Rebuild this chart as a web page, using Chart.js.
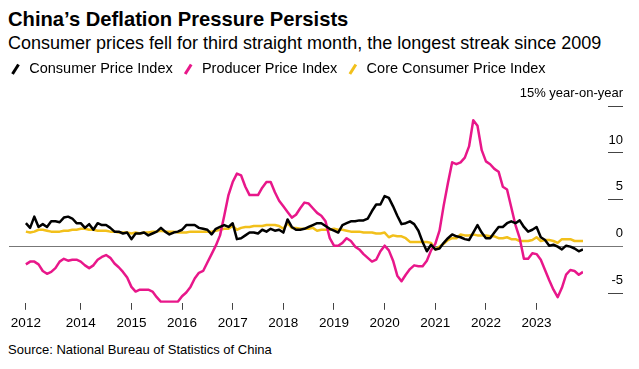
<!DOCTYPE html>
<html>
<head>
<meta charset="utf-8">
<script src="https://cdn.jsdelivr.net/npm/chart.js@4"></script>
<style>
  body { margin: 0; width: 639px; height: 369px; position: relative; background: #fff; overflow: hidden;
         font-family: "Liberation Sans", Arial, sans-serif; color: #000; }
  .title { position: absolute; left: 8px; top: 7px; font-size: 20.2px; line-height: 24px; font-weight: bold; }
  .subtitle { position: absolute; left: 8px; top: 32px; font-size: 18px; line-height: 22px; }
  .chart { position: absolute; left: 0; top: 53px; width: 639px; height: 285px; }
  .source { position: absolute; left: 8px; top: 342px; font-size: 13px; line-height: 16px; }
</style>
</head>
<body>
<div class="title">China’s Deflation Pressure Persists</div>
<div class="subtitle">Consumer prices fell for third straight month, the longest streak since 2009</div>
<div class="chart"><canvas id="chart"></canvas></div>
<div class="source">Source: National Bureau of Statistics of China</div>
<script>
// monthly, Dec 2012 - Dec 2023
const months = [];
for (let y = 2012, m = 12; y < 2024; m++) {
    if (m > 12) { m = 1; y++; }
    if (y > 2023) break;
    months.push(y + '-' + String(m).padStart(2, '0'));
}

const cpi = [
    2.5,
    2.0, 3.2, 2.1, 2.4, 2.1, 2.7, 2.7, 2.6, 3.1, 3.2, 3.0, 2.5,
    2.5, 2.0, 2.4, 1.8, 2.5, 2.3, 2.3, 2.0, 1.6, 1.6, 1.4, 1.5,
    0.8, 1.4, 1.4, 1.5, 1.2, 1.4, 1.6, 2.0, 1.6, 1.3, 1.5, 1.6,
    1.8, 2.3, 2.3, 2.3, 2.0, 1.9, 1.8, 1.3, 1.9, 2.1, 2.3, 2.1,
    2.5, 0.8, 0.9, 1.2, 1.5, 1.5, 1.4, 1.8, 1.6, 1.9, 1.7, 1.8,
    1.5, 2.9, 2.1, 1.8, 1.8, 1.9, 2.1, 2.3, 2.5, 2.5, 2.2, 1.9,
    1.7, 1.5, 2.3, 2.5, 2.7, 2.7, 2.8, 2.8, 3.0, 3.8, 4.5, 4.5,
    5.4, 5.2, 4.3, 3.3, 2.4, 2.5, 2.7, 2.4, 1.7, 0.5, -0.5, 0.2,
    -0.3, -0.2, 0.4, 0.9, 1.3, 1.1, 1.0, 0.8, 0.7, 1.5, 2.3, 1.5,
    0.9, 0.9, 1.5, 2.1, 2.1, 2.5, 2.7, 2.5, 2.8, 2.1, 1.6, 1.8,
    2.1, 1.0, 0.7, 0.1, 0.2, 0.0, -0.3, 0.1, 0.0, -0.2, -0.5, -0.3
];

const ppi = [
    -1.9,
    -1.6, -1.6, -1.9, -2.6, -2.9, -2.7, -2.3, -1.6, -1.3, -1.5, -1.4, -1.4,
    -1.6, -2.0, -2.3, -2.0, -1.4, -1.1, -0.9, -1.2, -1.8, -2.2, -2.7, -3.3,
    -4.3, -4.8, -4.6, -4.6, -4.6, -4.8, -5.4, -5.9, -5.9, -5.9, -5.9, -5.9,
    -5.3, -4.9, -4.3, -3.4, -2.8, -2.6, -1.7, -0.8, 0.1, 1.2, 3.3, 5.5,
    6.9, 7.8, 7.6, 6.4, 5.5, 5.5, 5.5, 6.3, 6.9, 6.9, 5.8, 4.9,
    4.3, 3.7, 3.1, 3.4, 4.1, 4.7, 4.6, 4.1, 3.6, 3.3, 2.7, 0.9,
    0.1, 0.1, 0.4, 0.9, 0.6, 0.0, -0.3, -0.8, -1.2, -1.6, -1.4, -0.5,
    0.1, -0.4, -1.5, -3.1, -3.7, -3.0, -2.4, -2.0, -2.1, -2.1, -1.5, -0.4,
    0.3, 1.7, 4.4, 6.8, 9.0, 8.8, 9.0, 9.5, 10.7, 13.5, 12.9, 10.3,
    9.1, 8.8, 8.3, 8.0, 6.4, 6.1, 4.2, 2.3, 0.9, -1.3, -1.3, -0.7,
    -0.8, -1.4, -2.5, -3.6, -4.6, -5.4, -4.4, -3.0, -2.5, -2.6, -3.0, -2.7
];

const coreCpi = [
    1.6,
    1.5, 1.6, 1.8, 1.8, 1.7, 1.6, 1.6, 1.6, 1.7, 1.7, 1.8, 1.8,
    1.9, 1.9, 1.8, 1.8, 1.7, 1.7, 1.7, 1.6, 1.6, 1.5, 1.5, 1.5,
    1.4, 1.5, 1.4, 1.5, 1.5, 1.6, 1.6, 1.7, 1.6, 1.6, 1.6, 1.5,
    1.5, 1.5, 1.6, 1.6, 1.6, 1.6, 1.6, 1.6, 1.7, 1.8, 1.9, 1.9,
    2.2, 1.8, 2.0, 2.1, 2.1, 2.2, 2.2, 2.2, 2.3, 2.3, 2.3, 2.2,
    1.9, 2.5, 2.0, 2.0, 1.9, 1.9, 1.9, 2.0, 1.7, 1.8, 1.8, 1.8,
    1.9, 1.8, 1.8, 1.7, 1.6, 1.6, 1.6, 1.5, 1.5, 1.5, 1.4, 1.4,
    1.5, 1.0, 1.2, 1.1, 1.1, 0.9, 0.5, 0.5, 0.5, 0.5, 0.5, 0.4,
    -0.3, 0.0, 0.3, 0.7, 0.9, 0.9, 1.3, 1.2, 1.2, 1.3, 1.2, 1.2,
    1.2, 1.1, 1.1, 0.9, 0.9, 1.0, 0.8, 0.8, 0.6, 0.6, 0.6, 0.7,
    1.0, 0.6, 0.7, 0.7, 0.6, 0.4, 0.8, 0.8, 0.8, 0.6, 0.6, 0.6
];

const xTickMonths = ['2012-12', '2014-01', '2015-01', '2016-01', '2017-01', '2018-01',
                     '2019-01', '2020-01', '2021-01', '2022-01', '2023-01'];
const xTickLabels = ['2012', '2014', '2015', '2016', '2017', '2018',
                     '2019', '2020', '2021', '2022', '2023'];
const yTicks = [-5, 0, 5, 10, 15];

const toPoints = arr => arr.map((v, i) => ({ x: i, y: v }));

Chart.defaults.font.family = '"Liberation Sans", Arial, sans-serif';
Chart.defaults.color = '#000';

new Chart(document.getElementById('chart'), {
    type: 'line',
    data: {
        datasets: [{
            label: 'Consumer Price Index',
            data: toPoints(cpi),
            borderColor: '#000000',
            borderWidth: 2.5,
            yAxisID: 'y'
        }, {
            label: 'Producer Price Index',
            data: toPoints(ppi),
            borderColor: '#e8178a',
            borderWidth: 2.5,
            yAxisID: 'y'
        }, {
            label: 'Core Consumer Price Index',
            data: toPoints(coreCpi),
            borderColor: '#f2c01b',
            borderWidth: 2.5,
            yAxisID: 'y'
        }]
    },
    options: {
        responsive: true,
        maintainAspectRatio: false,
        animation: false,
        elements: {
            point: { radius: 0 },
            line: { borderJoinStyle: 'round', tension: 0 }
        },
        layout: { padding: { left: 0, right: 16, top: 0, bottom: 2 } },
        plugins: {
            tooltip: { enabled: false },
            legend: {
                position: 'top',
                align: 'start',
                labels: {
                    usePointStyle: true,
                    boxWidth: 13,
                    boxHeight: 8,
                    padding: 9,
                    color: '#000',
                    font: { size: 14.5 },
                    generateLabels: chart => Chart.defaults.plugins.legend.labels.generateLabels(chart).map(item => {
                        item.pointStyle = 'line';
                        item.rotation = -58;
                        item.lineWidth = 3;
                        item.strokeStyle = chart.data.datasets[item.datasetIndex].borderColor;
                        return item;
                    })
                }
            }
        },
        scales: {
            x: {
                type: 'linear',
                min: -4,
                max: 132,
                afterBuildTicks: s => { s.ticks = xTickMonths.map(m => ({ value: months.indexOf(m) })); },
                border: { display: false },
                grid: { drawOnChartArea: false, tickLength: 7, color: '#444' },
                ticks: {
                    autoSkip: false,
                    maxRotation: 0,
                    padding: 5,
                    font: { size: 13.5 },
                    callback: (v, i) => xTickLabels[i]
                }
            },
            y: {
                position: 'right',
                min: -6,
                max: 17.1,
                afterBuildTicks: s => { s.ticks = yTicks.map(v => ({ value: v })); },
                // labels sit over the dashes, so no extra room above/below the plot
                afterFit: s => { s.width = 40; s.paddingTop = 0; s.paddingBottom = 0; },
                border: { display: false },
                grid: {
                    color: ctx => ctx.tick && ctx.tick.value === 0 ? '#777' : 'rgba(0,0,0,0)',
                    tickColor: ctx => ctx.tick && ctx.tick.value === 0 ? '#777' : '#444',
                    tickLength: 40,
                    tickBorderDash: ctx => ctx.tick && ctx.tick.value === 0 ? [] : [0, 25, 15, 100]
                },
                ticks: {
                    mirror: true,
                    padding: 40,
                    labelOffset: -13,
                    font: { size: 13 },
                    callback: v => v === 15 ? '15% year-on-year' : v
                }
            },
            // empty axis that keeps the plot 9px in from the left edge
            pad: {
                axis: 'y',
                position: 'left',
                display: true,
                border: { display: false },
                grid: { display: false },
                ticks: { display: false },
                afterFit: s => { s.width = 9; }
            }
        }
    }
});
</script>
</body>
</html>
